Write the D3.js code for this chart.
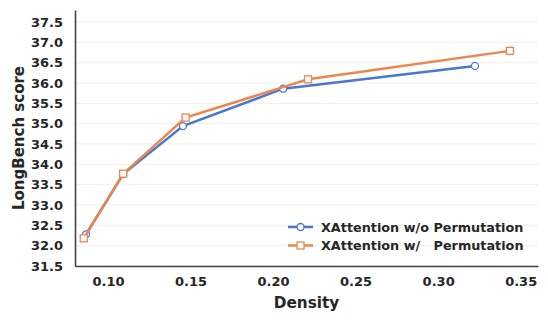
<html>
<head>
<script src="https://d3js.org/d3.v7.min.js"></script>
<style>
  body { margin: 0; background: white; }
  text { font-family: "DejaVu Sans", sans-serif; font-weight: bold; fill: #262626; }
</style>
</head>
<body>
<div id="chart"></div>
<script>
  // values
  const densityNoPerm = [0.0867, 0.1092, 0.1454, 0.2061, 0.3223];
  const scoreNoPerm   = [32.28, 33.76, 34.94, 35.86, 36.42];
  const densityPerm   = [0.0853, 0.1092, 0.1470, 0.2212, 0.3435];
  const scorePerm     = [32.18, 33.77, 35.15, 36.09, 36.79];
  const xTicks = [0.10, 0.15, 0.20, 0.25, 0.30, 0.35];
  const yTicks = [31.5, 32.0, 32.5, 33.0, 33.5, 34.0, 34.5, 35.0, 35.5, 36.0, 36.5, 37.0, 37.5];
  const seriesNames = ['XAttention w/o Permutation', 'XAttention w/   Permutation'];

  const W = 548, H = 322;
  const margin = {top: 10, right: 10, bottom: 56, left: 75};
  const width = W - margin.left - margin.right,
        height = H - margin.top - margin.bottom;

  const svg = d3.select('#chart').append('svg')
    .attr('width', W).attr('height', H);
  const g = svg.append('g')
    .attr('transform', 'translate(' + margin.left + ',' + margin.top + ')');

  const x = d3.scaleLinear().domain([0.080, 0.3605]).range([0, width]);
  const y = d3.scaleLinear().domain([31.5, 37.795]).range([height, 0]);

  // grid
  g.append('g').selectAll('line').data(yTicks).enter().append('line')
    .attr('x1', 0).attr('x2', width)
    .attr('y1', d => y(d)).attr('y2', d => y(d))
    .attr('stroke', '#f0f0f0').attr('stroke-width', 1);

  // axes
  const xAxis = g.append('g')
    .attr('transform', 'translate(0,' + height + ')')
    .call(d3.axisBottom(x).tickValues(xTicks).tickFormat(d3.format('.2f')).tickSize(0).tickPadding(11));
  const yAxis = g.append('g')
    .call(d3.axisLeft(y).tickValues(yTicks).tickFormat(d3.format('.1f')).tickSize(0).tickPadding(12));
  [xAxis, yAxis].forEach(a => {
    a.select('.domain').attr('stroke', '#444').attr('stroke-width', 1.6);
    a.selectAll('text').style('font-size', '13px').style('font-family', '"DejaVu Sans", sans-serif')
      .style('font-weight', 'bold').attr('fill', '#262626');
  });

  // labels
  svg.append('text').attr('x', margin.left + width / 2).attr('y', 308)
    .attr('text-anchor', 'middle').style('font-size', '15.3px').text('Density');
  svg.append('text').attr('transform', 'translate(24,' + (margin.top + height / 2) + ') rotate(-90)')
    .attr('text-anchor', 'middle').style('font-size', '15px').text('LongBench score');

  const series = [
    {name: seriesNames[0], xs: densityNoPerm, ys: scoreNoPerm, color: '#4878d0', marker: 'circle'},
    {name: seriesNames[1], xs: densityPerm, ys: scorePerm, color: '#ee854a', marker: 'square'}
  ];

  const line = d3.line().x(d => x(d[0])).y(d => y(d[1]));

  function drawMarker(sel, s, cx, cy) {
    if (s.marker === 'circle') {
      sel.append('circle').attr('cx', cx).attr('cy', cy).attr('r', 3.5)
        .attr('fill', 'white').attr('stroke', s.color).attr('stroke-width', 1.3);
    } else {
      sel.append('rect').attr('x', cx - 3.5).attr('y', cy - 3.5).attr('width', 7).attr('height', 7)
        .attr('fill', 'white').attr('stroke', s.color).attr('stroke-width', 1.3);
    }
  }

  series.forEach(s => {
    const pts = s.xs.map((v, i) => [v, s.ys[i]]);
    g.append('path').datum(pts).attr('d', line)
      .attr('fill', 'none').attr('stroke', s.color).attr('stroke-width', 2.5);
    const mg = g.append('g');
    pts.forEach(p => drawMarker(mg, s, x(p[0]), y(p[1])));
  });

  // legend
  const leg = svg.append('g');
  series.forEach((s, i) => {
    const ly = 227 + i * 18.5;
    leg.append('line').attr('x1', 288).attr('x2', 313).attr('y1', ly).attr('y2', ly)
      .attr('stroke', s.color).attr('stroke-width', 2.5);
    drawMarker(leg, s, 300.5, ly);
    leg.append('text').attr('x', 321).attr('y', ly + 4.5)
      .attr('xml:space', 'preserve').style('white-space', 'pre')
      .style('font-size', '12.8px').text(s.name);
  });
</script>
</body>
</html>
